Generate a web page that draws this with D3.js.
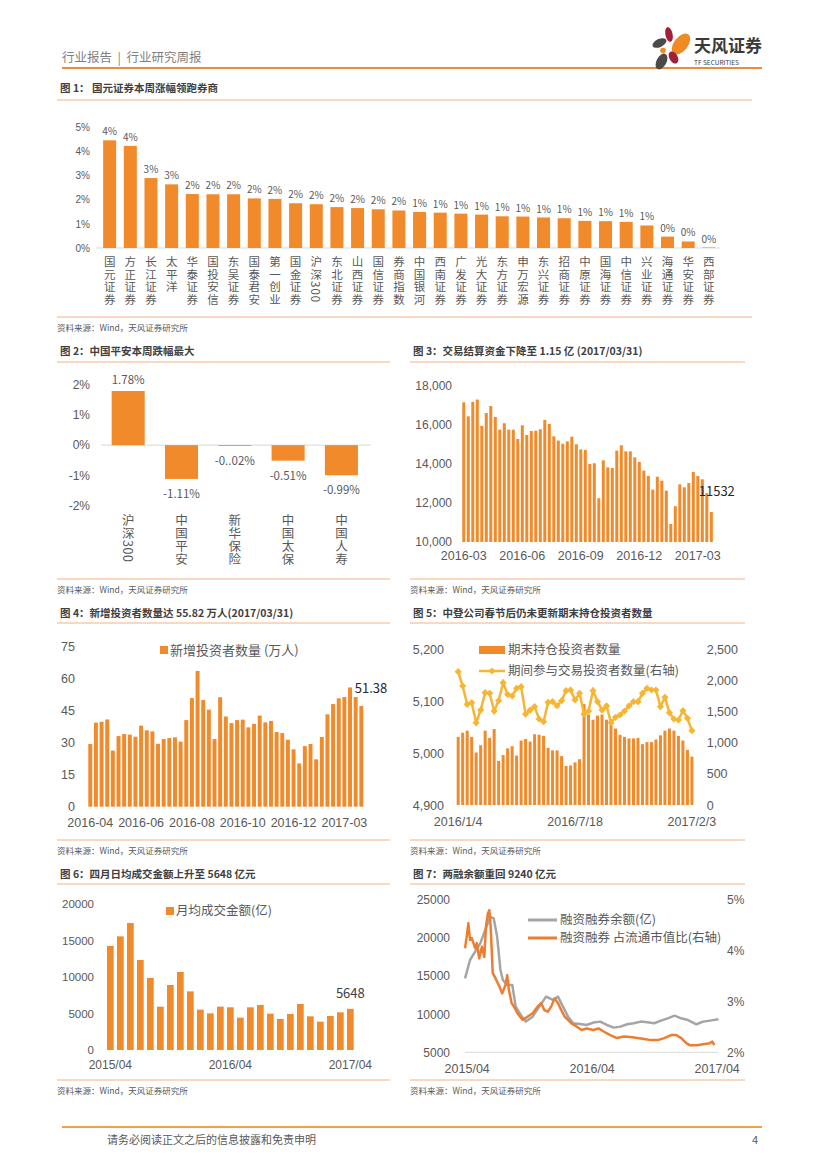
<!DOCTYPE html>
<html>
<head>
<meta charset="utf-8">
<script src="https://cdn.jsdelivr.net/npm/d3@7"></script>
<style>
  body { margin: 0; background: #fff; }
  svg { display: block; }
  .vert { writing-mode: vertical-rl; text-orientation: mixed; }
</style>
</head>
<body>
<svg id="page" width="827" height="1169"></svg>
<script>
// ---- data ----
var brokerNames = ['国元证券','方正证券','长江证券','太平洋','华泰证券','国投安信','东吴证券','国泰君安','第一创业','国金证券','沪深300','东北证券','山西证券','国信证券','券商指数','中国银河','西南证券','广发证券','光大证券','东方证券','申万宏源','东兴证券','招商证券','中原证券','国海证券','中信证券','兴业证券','海通证券','华安证券','西部证券'];
var brokerChange = [4.45,4.22,2.89,2.63,2.23,2.22,2.22,2.05,2.03,1.85,1.81,1.69,1.65,1.6,1.55,1.49,1.46,1.42,1.38,1.31,1.3,1.26,1.23,1.12,1.11,1.08,0.93,0.47,0.27,0.02];

var insurNames = ['沪深300','中国平安','新华保险','中国太保','中国人寿'];
var insurChange = [1.78,-1.11,-0.02,-0.51,-0.99];
var insurLabels = ['1.78%','-1.11%','-0..02%','-0.51%','-0.99%'];

var settleFunds = [17150,16430,17170,17290,15940,16600,16960,16400,15750,16080,15750,15750,15270,15970,15480,15680,15700,15770,16250,16040,15410,15190,15030,15150,15390,15000,14740,14710,13990,14030,12240,14180,13820,13790,14680,14950,14640,14640,14330,14100,13650,13380,12680,13340,13140,12630,10920,11830,12950,12800,13020,13580,13380,13210,12500,11532];
var settleTickIdx = [0,13,26,39,52];
var settleTickLabels = ['2016-03','2016-06','2016-09','2016-12','2017-03'];
var settleLast = '11532';

var newInvestors = [29.4,39.4,39.8,40.9,26.3,33.1,34.1,33.8,32.8,38.0,35.8,35.3,29.5,31.7,32.2,32.5,30.5,40.6,50.9,63.6,50.0,45.5,31.7,51.3,42.3,39.2,40.6,40.8,37.2,38.8,42.7,39.5,40.2,35.0,34.5,31.4,26.9,20.3,28.4,29.4,22.2,32.7,43.3,48.1,50.8,51.4,55.9,51.38,47.2];
var newInvTickIdx = [0,9,18,27,36,45];
var newInvTickLabels = ['2016-04','2016-06','2016-08','2016-10','2016-12','2017-03'];
var newInvMarkIdx = 47;

var holders = [5031,5039,5043,5031,5001,5015,5043,5029,5046,4985,4996,5009,5013,4995,5024,5027,5022,5036,5035,5033,5010,5005,5005,4994,4975,4976,4982,4988,5094,5074,5064,5072,5074,5064,5065,5047,5035,5031,5028,5028,5029,5017,5021,5021,5026,5034,5043,5047,5043,5033,5024,5006,4993];
var traders = [2137,1907,1613,1640,1319,1522,1800,1790,1506,1672,1960,1773,1747,1870,1896,1458,1522,1576,1378,1335,1645,1656,1592,1672,1832,1843,1683,1790,1458,1506,1832,1656,1522,1587,1319,1405,1442,1506,1587,1656,1656,1790,1870,1843,1843,1576,1725,1480,1378,1362,1512,1389,1191];
var holdTickIdx = [0,26,52];
var holdTickLabels = ['2016/1/4','2016/7/18','2017/2/3'];

var turnover = [14280,15600,17440,12360,9890,5950,8920,10710,8050,5540,5030,5950,5860,4440,5860,6180,4990,4260,4940,6320,4620,3890,4670,5170,5648];
var turnTickIdx = [0,12,24];
var turnTickLabels = ['2015/04','2016/04','2017/04'];

// months since 2015/04
var balMonth = [-0.16,0.32,0.81,1.3,1.78,2.27,2.59,2.92,3.24,3.47,3.89,4.38,4.7,5.19,5.68,6.33,6.97,7.62,8.27,8.76,9.24,9.73,10.22,10.87,11.51,12.16,12.81,13.46,14.11,14.76,15.4,16.05,16.7,17.35,18.0,18.65,19.3,19.95,20.59,21.24,22.05,22.7,23.35,24.16];
var balValue = [14710,17120,18220,19310,21060,22800,22590,20190,15810,14500,13840,13840,11000,9900,9030,9680,11000,12310,11870,12310,11000,9680,8810,8720,8590,8900,9030,8590,8240,8370,8680,8810,9030,8940,8810,9160,9460,9810,9460,9240,8680,9030,9160,9330];
var ratioMonth = [-0.16,0,0.16,0.32,0.49,0.81,0.97,1.2,1.46,1.69,1.85,2.04,2.17,2.3,2.5,2.69,2.92,3.15,3.41,3.73,3.89,4.05,4.31,4.54,4.87,5.35,5.84,6.33,6.81,7.14,7.46,7.78,8.11,8.43,8.76,9.08,9.41,9.73,10.06,10.54,11.03,11.51,12.16,12.65,13.14,13.79,14.43,15.08,15.73,16.38,17.03,17.68,18.33,18.97,19.62,20.11,20.6,21.08,21.41,22.06,22.7,23.35,23.58,23.77];
var ratioValue = [4.05,4.28,4.54,4.21,4.25,4.05,4.15,3.85,4.08,3.88,4.48,4.74,4.8,4.48,3.56,3.49,3.39,3.29,3.16,3.33,3.52,3.23,2.97,2.9,2.77,2.64,2.7,2.77,2.9,2.97,2.83,2.8,2.9,3.06,2.97,2.83,2.7,2.64,2.57,2.51,2.44,2.47,2.44,2.47,2.41,2.34,2.28,2.31,2.3,2.28,2.26,2.24,2.24,2.28,2.34,2.34,2.28,2.18,2.14,2.14,2.16,2.18,2.21,2.14];
var marginTickMonth = [0,12,24];
var marginTickLabels = ['2015/04','2016/04','2017/04'];

// ---- look ----
var FONT = '"Noto Sans CJK SC", "Noto Sans", sans-serif';
var NUMFONT = '"Liberation Sans", Arial, sans-serif';
var ORANGE = '#F08A2A';
var TXT = '#595959';
var RULE = '#F4B183';
var SOURCE = '资料来源：Wind，天风证券研究所';

var svg = d3.select('#page').attr('font-family', FONT);

function txt(x, y, s, size, opts) {
    opts = opts || {};
    return svg.append('text')
        .attr('x', x).attr('y', y)
        .attr('font-size', size)
        .attr('fill', opts.fill || TXT)
        .attr('font-weight', opts.weight || null)
        .attr('text-anchor', opts.anchor || 'start')
        .attr('dy', opts.dy || null)
        .text(s);
}

function hline(x0, x1, y, color, w) {
    svg.append('line').attr('x1', x0).attr('x2', x1).attr('y1', y).attr('y2', y)
        .attr('stroke', color).attr('stroke-width', w);
}

function panel(x0, x1, yTitle, yTop, yBottom, title) {
    txt(x0 + 3, yTitle, title, 10.5, {weight: 'bold', fill: '#404040'});
    hline(x0, x1, yTop, RULE, 1);
    hline(x0, x1, yBottom, RULE, 1);
    txt(x0, yBottom + 14, SOURCE, 8.5);
}

function yAxis(scale, x, side, ticks, fmt, size) {
    var ax = (side === 'left' ? d3.axisLeft(scale) : d3.axisRight(scale))
        .tickValues(ticks).tickSize(0).tickPadding(0).tickFormat(fmt);
    var g = svg.append('g').attr('transform', 'translate(' + x + ',0)').call(ax);
    g.select('.domain').remove();
    g.attr('font-family', NUMFONT).attr('font-size', size).style('color', TXT);
    return g;
}

function xAxis(scale, y, ticks, labels, size) {
    var ax = d3.axisBottom(scale).tickValues(ticks).tickSize(0).tickPadding(0)
        .tickFormat(function (d, i) { return labels[i]; });
    var g = svg.append('g').attr('transform', 'translate(0,' + y + ')').call(ax);
    g.select('.domain').remove();
    g.attr('font-family', NUMFONT).attr('font-size', size).style('color', TXT);
    return g;
}

// category label written top to bottom, digits lie on their side
function vertLabel(x, yTop, str, size, spacing) {
    svg.append('text')
        .attr('class', 'vert')
        .attr('x', x).attr('y', yTop)
        .attr('font-size', size)
        .attr('letter-spacing', spacing)
        .attr('fill', TXT)
        .text(str);
}

// ---- page header / footer ----
txt(62, 62, '行业报告\u00a0\u00a0|\u00a0\u00a0行业研究周报', 12.5, {fill: '#7F7F7F'});
hline(62, 762, 68, '#ED8B3A', 2);

var logo = svg.append('g');
logo.append('ellipse').attr('cx', 669).attr('cy', 34.5).attr('rx', 3.6).attr('ry', 7.5)
    .attr('transform', 'rotate(-12,669,34.5)').attr('fill', '#A3203A');
logo.append('ellipse').attr('cx', 681).attr('cy', 44).attr('rx', 7).attr('ry', 12)
    .attr('transform', 'rotate(38,681,44)').attr('fill', '#F08A24');
logo.append('ellipse').attr('cx', 659.5).attr('cy', 43).attr('rx', 7.5).attr('ry', 4)
    .attr('transform', 'rotate(-25,659.5,43)').attr('fill', '#4A4A4A');
logo.append('circle').attr('cx', 663).attr('cy', 50.5).attr('r', 2.8).attr('fill', '#F08A24');
logo.append('ellipse').attr('cx', 673.5).attr('cy', 57.5).attr('rx', 4.2).attr('ry', 6.5)
    .attr('transform', 'rotate(-30,673.5,57.5)').attr('fill', '#A3203A');
logo.append('ellipse').attr('cx', 661.5).attr('cy', 61.5).attr('rx', 5).attr('ry', 8.5)
    .attr('transform', 'rotate(28,661.5,61.5)').attr('fill', '#4A4A4A');
txt(694, 52, '天风证券', 17, {weight: 'bold', fill: '#3A3A3A'});
txt(694, 65, 'TF SECURITIES', 6.5, {fill: '#3A3A3A'});

hline(62, 762, 1127, '#F0A048', 2);
txt(107, 1144, '请务必阅读正文之后的信息披露和免责申明', 11);
txt(752, 1144, '4', 11);

// ---- 图1 ----
panel(57, 752, 92, 100, 317, '图 1： 国元证券本周涨幅领跑券商');
var x1 = d3.scaleBand().domain(d3.range(brokerNames.length)).range([95.5, 723]).padding(0.37);
var y1 = d3.scaleLinear().domain([0, 5]).range([248, 127]);
yAxis(y1, 90, 'left', [0, 1, 2, 3, 4, 5], function (d) { return d + '%'; }, 10);
hline(96, 720, y1(0), '#D9D9D9', 1);
svg.append('g').selectAll('rect').data(brokerChange).enter().append('rect')
    .attr('x', function (d, i) { return x1(i); })
    .attr('y', function (d) { return y1(d); })
    .attr('width', x1.bandwidth())
    .attr('height', function (d) { return y1(0) - y1(d); })
    .attr('fill', ORANGE);
brokerChange.forEach(function (d, i) {
    txt(x1(i) + x1.bandwidth() / 2, y1(d) - 5, Math.round(d) + '%', 10, {anchor: 'middle'});
    vertLabel(x1(i) + x1.bandwidth() / 2, 256, brokerNames[i], 11.5, 1);
});

// ---- 图2 ----
panel(57, 390, 355, 362, 579, '图 2：中国平安本周跌幅最大');
var x2 = d3.scaleBand().domain(d3.range(insurNames.length)).range([91.4, 378.2]).padding(0.38);
var y2 = d3.scaleLinear().domain([-2, 2]).range([506, 384.3]);
yAxis(y2, 90, 'left', [-2, -1, 0, 1, 2], function (d) { return d + '%'; }, 12);
hline(101, 371, y2(0), '#D9D9D9', 1);
insurChange.forEach(function (d, i) {
    var top = Math.min(y2(0), y2(d)), h = Math.abs(y2(d) - y2(0));
    svg.append('rect').attr('x', x2(i)).attr('y', top).attr('width', x2.bandwidth())
        .attr('height', Math.max(h, 0.8)).attr('fill', ORANGE);
    var cx = x2(i) + x2.bandwidth() / 2;
    var ly = d >= 0 ? y2(d) - 11 : y2(d) + 15;
    txt(cx, ly, insurLabels[i], 11.5, {anchor: 'middle', dy: '0.35em'});
    vertLabel(cx, 514, insurNames[i], 12.5, 0.5);
});

// ---- 图3 ----
panel(410, 745, 355, 362, 579, '图 3：交易结算资金下降至 1.15 亿 (2017/03/31)');
var x3 = d3.scaleBand().domain(d3.range(settleFunds.length)).range([460.8, 714.3]).padding(0.33);
var y3 = d3.scaleLinear().domain([10000, 18000]).range([542, 385.7]);
yAxis(y3, 452, 'left', d3.range(10000, 18001, 2000), d3.format(','), 12);
svg.append('g').selectAll('rect').data(settleFunds).enter().append('rect')
    .attr('x', function (d, i) { return x3(i); })
    .attr('y', function (d) { return y3(d); })
    .attr('width', x3.bandwidth())
    .attr('height', function (d) { return y3(10000) - y3(d); })
    .attr('fill', ORANGE);
xAxis(x3, 551.6, settleTickIdx, settleTickLabels, 12.5);
var lastI = settleFunds.length - 1;
txt(x3(lastI) + 7, y3(settleFunds[lastI]) - 21, settleLast, 13, {anchor: 'middle', dy: '0.35em', fill: '#262626'});

// ---- 图4 ----
panel(57, 390, 617, 623, 840, '图 4：新增投资者数量达 55.82 万人(2017/03/31)');
var x4 = d3.scaleBand().domain(d3.range(newInvestors.length)).range([86.6, 365]).padding(0.3);
var y4 = d3.scaleLinear().domain([0, 75]).range([806.7, 646.7]);
yAxis(y4, 75, 'left', d3.range(0, 76, 15), d3.format('d'), 12.5);
svg.append('g').selectAll('rect').data(newInvestors).enter().append('rect')
    .attr('x', function (d, i) { return x4(i); })
    .attr('y', function (d) { return y4(d); })
    .attr('width', x4.bandwidth())
    .attr('height', function (d) { return y4(0) - y4(d); })
    .attr('fill', ORANGE);
xAxis(x4, 818.5, newInvTickIdx, newInvTickLabels, 12.5);
svg.append('rect').attr('x', 160).attr('y', 646).attr('width', 8).attr('height', 8).attr('fill', ORANGE);
txt(170, 650, '新增投资者数量 (万人)', 13, {dy: '0.35em'});
txt(x4(newInvMarkIdx) + 1, y4(newInvestors[newInvMarkIdx]) - 9, String(newInvestors[newInvMarkIdx]), 13, {dy: '0.35em', fill: '#262626'});

// ---- 图5 ----
panel(410, 745, 617, 623, 840, '图 5：中登公司春节后仍未更新期末持仓投资者数量');
var x5 = d3.scaleBand().domain(d3.range(holders.length)).range([455.2, 694.9]).padding(0.33);
var y5 = d3.scaleLinear().domain([4900, 5200]).range([805, 649]);
var y5r = d3.scaleLinear().domain([0, 2500]).range([805, 649]);
yAxis(y5, 444, 'left', d3.range(4900, 5201, 100), d3.format(','), 12.5);
yAxis(y5r, 706.7, 'right', d3.range(0, 2501, 500), d3.format(','), 12.5);
svg.append('g').selectAll('rect').data(holders).enter().append('rect')
    .attr('x', function (d, i) { return x5(i); })
    .attr('y', function (d) { return y5(d); })
    .attr('width', x5.bandwidth())
    .attr('height', function (d) { return y5(4900) - y5(d); })
    .attr('fill', ORANGE);
var LINE5 = '#F7B534';
var line5 = d3.line()
    .x(function (d, i) { return x5(i) + x5.bandwidth() / 2; })
    .y(function (d) { return y5r(d); });
svg.append('path').datum(traders).attr('d', line5).attr('fill', 'none')
    .attr('stroke', LINE5).attr('stroke-width', 2.5);
var diamond = d3.symbol().type(d3.symbolSquare).size(26);
svg.append('g').selectAll('path').data(traders).enter().append('path')
    .attr('d', diamond)
    .attr('transform', function (d, i) {
        return 'translate(' + (x5(i) + x5.bandwidth() / 2) + ',' + y5r(d) + ') rotate(45)';
    })
    .attr('fill', LINE5);
xAxis(x5, 817.6, holdTickIdx, holdTickLabels, 12.5);
svg.append('rect').attr('x', 479).attr('y', 646).attr('width', 26).attr('height', 8).attr('fill', ORANGE);
txt(508, 650, '期末持仓投资者数量', 12.5, {dy: '0.35em'});
hline(479, 505, 671, LINE5, 2.5);
svg.append('path').attr('d', diamond).attr('transform', 'translate(492,671) rotate(45)').attr('fill', LINE5);
txt(508, 671, '期间参与交易投资者数量(右轴)', 12.5, {dy: '0.35em'});

// ---- 图6 ----
panel(57, 390, 878, 884, 1080, '图 6：四月日均成交金额上升至 5648 亿元');
var x6 = d3.scaleBand().domain(d3.range(turnover.length)).range([103.7, 357]).padding(0.33);
var y6 = d3.scaleLinear().domain([0, 20000]).range([1050, 904.3]);
yAxis(y6, 94, 'left', d3.range(0, 20001, 5000), d3.format('d'), 11.5);
svg.append('g').selectAll('rect').data(turnover).enter().append('rect')
    .attr('x', function (d, i) { return x6(i); })
    .attr('y', function (d) { return y6(d); })
    .attr('width', x6.bandwidth())
    .attr('height', function (d) { return y6(0) - y6(d); })
    .attr('fill', ORANGE);
xAxis(x6, 1060.3, turnTickIdx, turnTickLabels, 12);
svg.append('rect').attr('x', 166).attr('y', 907).attr('width', 8).attr('height', 8).attr('fill', ORANGE);
txt(176, 911, '月均成交金额(亿)', 12.5, {dy: '0.35em'});
var lastT = turnover.length - 1;
txt(x6(lastT) + x6.bandwidth() / 2, y6(turnover[lastT]) - 15, String(turnover[lastT]), 13, {anchor: 'middle', dy: '0.35em', fill: '#404040'});

// ---- 图7 ----
panel(410, 745, 878, 884, 1080, '图 7：两融余额重回 9240 亿元');
var x7 = d3.scaleLinear().domain([0, 24]).range([466.7, 716.7]);
var y7 = d3.scaleLinear().domain([5000, 25000]).range([1052.3, 900]);
var y7r = d3.scaleLinear().domain([2, 5]).range([1052.3, 900]);
yAxis(y7, 450, 'left', d3.range(5000, 25001, 5000), d3.format('d'), 12);
yAxis(y7r, 727, 'right', [2, 3, 4, 5], function (d) { return d + '%'; }, 12);
hline(465, 718, y7(5000), '#D9D9D9', 1);
var balLine = d3.line()
    .x(function (d, i) { return x7(balMonth[i]); })
    .y(function (d) { return y7(d); });
svg.append('path').datum(balValue).attr('d', balLine).attr('fill', 'none')
    .attr('stroke', '#A5A5A5').attr('stroke-width', 2.5).attr('stroke-linejoin', 'round');
var ratioLine = d3.line()
    .x(function (d, i) { return x7(ratioMonth[i]); })
    .y(function (d) { return y7r(d); });
svg.append('path').datum(ratioValue).attr('d', ratioLine).attr('fill', 'none')
    .attr('stroke', '#ED7D31').attr('stroke-width', 2.5).attr('stroke-linejoin', 'round');
var ax7 = d3.axisBottom(x7).tickValues(marginTickMonth).tickSize(0).tickPadding(0)
    .tickFormat(function (d, i) { return marginTickLabels[i]; });
var g7 = svg.append('g').attr('transform', 'translate(0,1063.7)').call(ax7);
g7.select('.domain').remove();
g7.attr('font-family', NUMFONT).attr('font-size', 12.5).style('color', TXT);
hline(528, 557, 920, '#A5A5A5', 3);
txt(560, 920, '融资融券余额(亿)', 12.5, {dy: '0.35em'});
hline(528, 557, 938, '#ED7D31', 3);
txt(560, 938, '融资融券 占流通市值比(右轴)', 12.5, {dy: '0.35em'});
</script>
</body>
</html>
